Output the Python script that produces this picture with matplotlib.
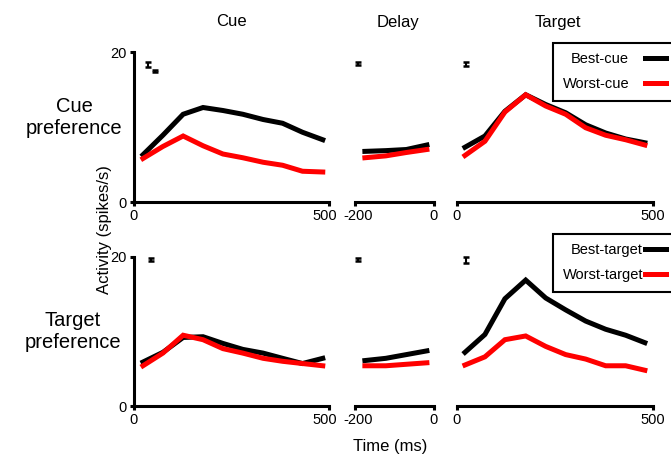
import numpy as np
import matplotlib
matplotlib.use("Agg")
import matplotlib.pyplot as plt
import matplotlib.transforms as mtrans

plt.rcParams['font.family'] = ['Liberation Sans', 'DejaVu Sans']

# time bins (ms)
t_cue = [23, 74, 126, 177, 228, 279, 331, 381, 432, 484]
t_delay = [-175, -122, -70, -18]
t_target = [21, 72, 123, 176, 227, 278, 329, 380, 431, 480]

# cue preference (top row)
cue_best_cue = [6.3, 8.9, 11.7, 12.6, 12.2, 11.7, 11.0, 10.5, 9.3, 8.3]
cue_worst_cue = [5.8, 7.4, 8.8, 7.5, 6.4, 5.9, 5.3, 4.9, 4.1, 4.0]
delay_best_cue = [6.75, 6.85, 7.0, 7.6]
delay_worst_cue = [5.9, 6.15, 6.6, 7.0]
target_best_cue = [7.3, 8.8, 12.1, 14.3, 13.0, 11.9, 10.3, 9.2, 8.4, 7.9]
target_worst_cue = [6.2, 8.1, 12.0, 14.3, 12.8, 11.7, 9.9, 8.9, 8.3, 7.6]

# target preference (bottom row)
cue_best_tgt = [5.9, 7.2, 9.2, 9.3, 8.4, 7.6, 7.1, 6.4, 5.7, 6.4]
cue_worst_tgt = [5.4, 7.1, 9.5, 8.9, 7.7, 7.1, 6.4, 6.0, 5.7, 5.4]
delay_best_tgt = [6.1, 6.4, 6.9, 7.4]
delay_worst_tgt = [5.4, 5.4, 5.6, 5.8]
target_best_tgt = [7.2, 9.6, 14.4, 16.9, 14.5, 12.9, 11.4, 10.3, 9.5, 8.5]
target_worst_tgt = [5.5, 6.6, 8.9, 9.4, 8.0, 6.9, 6.3, 5.4, 5.4, 4.8]

# SEM markers: (x, y, yerr) per panel
sem_top = {'cue': ([37, 54], [18.3, 17.5], [0.35, 0.12]),
           'delay': ([-192], [18.5], [0.2]),
           'target': ([24], [18.4], [0.25])}
sem_bot = {'cue': ([44], [19.7], [0.2]),
           'delay': ([-192], [19.7], [0.2]),
           'target': ([24], [19.6], [0.45])}

fig = plt.figure(figsize=(6.71, 4.54), dpi=100)

W, H = 671.0, 454.0
cols = {'cue': (134, 329, (0, 500)), 'delay': (355, 434, (-200, 0)), 'target': (456.7, 652.7, (0, 500))}
rows = {'top': (52, 202), 'bot': (257, 406)}

LW = 3.6


def shift_label(lbl, dx_px):
    lbl.set_transform(lbl.get_transform() + mtrans.ScaledTranslation(dx_px / 100.0, 0, fig.dpi_scale_trans))


def make_ax(col, row):
    x0, x1, xl = cols[col]
    y0, y1 = rows[row]
    ax = fig.add_axes([x0 / W, 1 - y1 / H, (x1 - x0) / W, (y1 - y0) / H])
    ax.set_xlim(xl)
    ax.set_ylim(0, 20)
    ax.set_xticks(list(xl))
    ax.set_xticklabels([str(v) for v in xl])
    for s in ['top', 'right']:
        ax.spines[s].set_visible(False)
    ax.spines['bottom'].set_linewidth(2.2)
    ax.spines['left'].set_linewidth(2.2)
    ax.tick_params(axis='both', length=3, width=2.2, labelsize=10.5, pad=2)
    if col == 'cue':
        ax.set_yticks([0, 20])
        shift_label(ax.get_xticklabels()[1], -4)
    else:
        ax.spines['left'].set_visible(False)
        ax.set_yticks([])
    if col == 'delay':
        shift_label(ax.get_xticklabels()[0], 3)
    ax.patch.set_alpha(0)
    return ax


panels = [
    ('cue', 'top', t_cue, cue_best_cue, cue_worst_cue, sem_top['cue']),
    ('delay', 'top', t_delay, delay_best_cue, delay_worst_cue, sem_top['delay']),
    ('target', 'top', t_target, target_best_cue, target_worst_cue, sem_top['target']),
    ('cue', 'bot', t_cue, cue_best_tgt, cue_worst_tgt, sem_bot['cue']),
    ('delay', 'bot', t_delay, delay_best_tgt, delay_worst_tgt, sem_bot['delay']),
    ('target', 'bot', t_target, target_best_tgt, target_worst_tgt, sem_bot['target']),
]

axes = {}
for col, row, t, best, worst, sem in panels:
    ax = make_ax(col, row)
    axes[(col, row)] = ax
    ax.plot(t, best, color='black', lw=LW, clip_on=False, solid_joinstyle='miter')
    ax.plot(t, worst, color='#ff0000', lw=LW, clip_on=False, solid_joinstyle='miter')
    ax.errorbar(sem[0], sem[1], yerr=sem[2], fmt='none', ecolor='black',
                elinewidth=1.5, capsize=2, capthick=1.8, clip_on=False)

# legends
top_ax = axes[('target', 'top')]
h1, = top_ax.plot([], [], color='black', lw=LW)
h2, = top_ax.plot([], [], color='#ff0000', lw=LW)
leg = fig.legend([h1, h2], ['Best-cue', 'Worst-cue'], loc='upper left',
                 bbox_to_anchor=(553 / W, 1 - 43 / H), markerfirst=False,
                 fontsize=10.5, fancybox=False, framealpha=1, edgecolor='black',
                 handlelength=1.4, handletextpad=1.1, borderpad=0.65,
                 labelspacing=0.75, borderaxespad=0)
leg.get_frame().set_linewidth(1.5)

bot_ax = axes[('target', 'bot')]
h3, = bot_ax.plot([], [], color='black', lw=LW)
h4, = bot_ax.plot([], [], color='#ff0000', lw=LW)
leg2 = fig.legend([h3, h4], ['Best-target', 'Worst-target'], loc='upper left',
                  bbox_to_anchor=(553 / W, 1 - 234 / H), markerfirst=False,
                  fontsize=10.5, fancybox=False, framealpha=1, edgecolor='black',
                  handlelength=1.4, handletextpad=0.15, borderpad=0.65,
                  labelspacing=0.75, borderaxespad=0)
leg2.get_frame().set_linewidth(1.5)

# titles and labels
fig.text(231.5 / W, 1 - 22 / H, 'Cue', ha='center', va='center', fontsize=12)
fig.text(398 / W, 1 - 22 / H, 'Delay', ha='center', va='center', fontsize=12)
fig.text(558 / W, 1 - 22 / H, 'Target', ha='center', va='center', fontsize=12)
fig.text(74 / W, 1 - 118 / H, 'Cue\npreference', ha='center', va='center', fontsize=14.5, linespacing=1.2)
fig.text(73 / W, 1 - 332 / H, 'Target\npreference', ha='center', va='center', fontsize=14.5, linespacing=1.2)
fig.text(104 / W, 1 - 230 / H, 'Activity (spikes/s)', ha='center', va='center', rotation=90, fontsize=12)
fig.text(390 / W, 1 - 446 / H, 'Time (ms)', ha='center', va='center', fontsize=12)

fig.savefig('out.png', dpi=100)
